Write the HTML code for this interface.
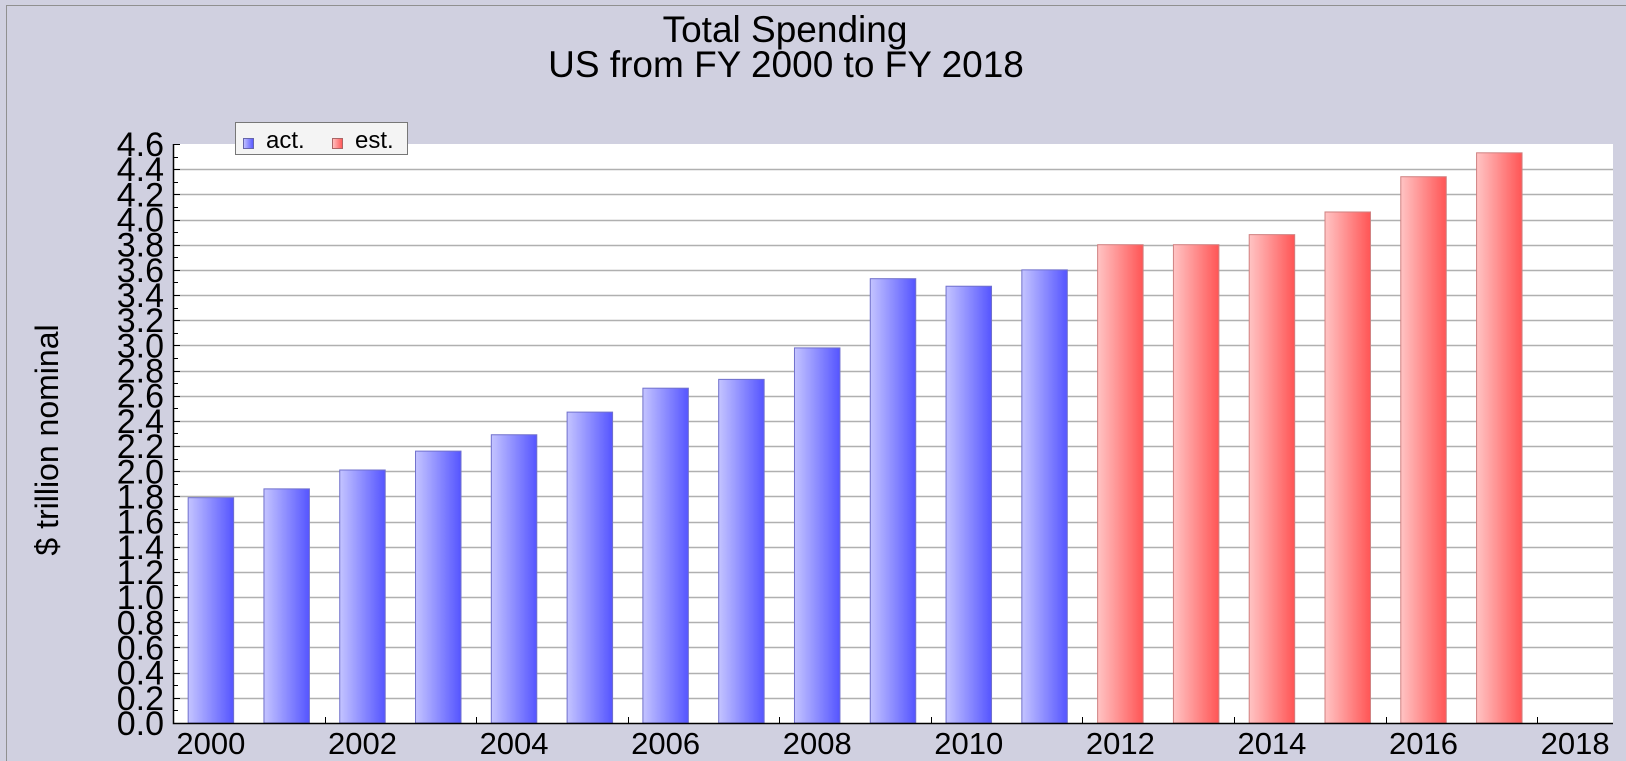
<!DOCTYPE html>
<html><head><meta charset="utf-8"><style>
html,body{margin:0;padding:0;background:#d0d0e0;overflow:hidden;width:1626px;height:761px;}
svg{display:block;font-family:"Liberation Sans",Arial,sans-serif;}
</style></head><body>
<svg id="chart" width="1626" height="761" xmlns="http://www.w3.org/2000/svg">
<defs>
<linearGradient id="gBlue" x1="0" x2="1" y1="0" y2="0"><stop offset="0" stop-color="#c4c4ff"/><stop offset="1" stop-color="#5555ff"/></linearGradient>
<linearGradient id="gRed" x1="0" x2="1" y1="0" y2="0"><stop offset="0" stop-color="#ffc4c4"/><stop offset="1" stop-color="#ff5555"/></linearGradient>
</defs>
<rect x="0" y="0" width="1626" height="761" fill="#d0d0e0"/>
<path d="M6.5,761 V5.5 H1626" fill="none" stroke="#909090"/>
<text x="785" y="42" font-size="37" text-anchor="middle">Total Spending</text>
<text x="786" y="77" font-size="37" text-anchor="middle">US from FY 2000 to FY 2018</text>
<text transform="translate(58,440) rotate(-90)" font-size="32" text-anchor="middle">$ trillion nominal</text>
<rect x="173" y="144" width="1440" height="579" fill="#fff"/>
<g id="grid"></g><g id="bars"></g><g id="axes"></g>
<g>
<rect x="235.5" y="122.5" width="172" height="32" fill="#f4f4f4" stroke="#777"/>
<rect x="243.5" y="138.5" width="10" height="10" fill="url(#gBlue)" stroke="#6666aa"/>
<text x="266" y="148" font-size="24">act.</text>
<rect x="332.5" y="138.5" width="10" height="10" fill="url(#gRed)" stroke="#aa6666"/>
<text x="355" y="148" font-size="24">est.</text>
</g>
</svg>
<script>
const years = [2000,2001,2002,2003,2004,2005,2006,2007,2008,2009,2010,2011,2012,2013,2014,2015,2016,2017,2018];
const actual = [1.79,1.86,2.01,2.16,2.29,2.47,2.66,2.73,2.98,3.53,3.47,3.60,null,null,null,null,null,null,null];
const estimate = [null,null,null,null,null,null,null,null,null,null,null,null,3.80,3.80,3.88,4.06,4.34,4.53,null];
const yTicks = [0.0,0.2,0.4,0.6,0.8,1.0,1.2,1.4,1.6,1.8,2.0,2.2,2.4,2.6,2.8,3.0,3.2,3.4,3.6,3.8,4.0,4.2,4.4,4.6];
const xLabels = [2000,2002,2004,2006,2008,2010,2012,2014,2016,2018];

const NS="http://www.w3.org/2000/svg";
const L=173,R=1613,T=144,B=723,YMAX=4.6;
const slot=(R-L)/years.length;
function y(v){return B-(v/YMAX)*(B-T);}
function xc(yr){return L+(years.indexOf(yr)+0.5)*slot;}
function mk(tag,attrs,parent){const e=document.createElementNS(NS,tag);for(const k in attrs)e.setAttribute(k,attrs[k]);parent.appendChild(e);return e;}
const grid=document.getElementById('grid'),bars=document.getElementById('bars'),axes=document.getElementById('axes');
yTicks.forEach(v=>{
  const yy=Math.round(y(v))+0.5;
  if(v>0&&v<YMAX){const g=mk('line',{x1:L,x2:R,y1:yy,y2:yy,stroke:'#b0b0b0','stroke-width':1.5},grid);
  
  }
  const t=mk('line',{x1:L,x2:L+7,y1:yy,y2:yy,stroke:'#000'},axes);
  
  
  const m=Math.round(y(v+0.1))+0.5;
  if(v<YMAX){const mt=mk('line',{x1:L,x2:L+5,y1:m,y2:m,stroke:'#000'},axes);
  
  }
  const lb=mk('text',{x:164,y:y(v)+12,'font-size':34,'text-anchor':'end'},axes);
  lb.textContent=v.toFixed(1);
  
  
});
const bw=slot*0.6;
function drawBars(arr,fill,stroke,name){
  arr.forEach((v,i)=>{
    if(v==null)return;
    const cx=xc(years[i]);
    const r=mk('rect',{x:cx-bw/2,y:y(v),width:bw,height:B-y(v),fill:fill,stroke:stroke,'stroke-width':1},bars);
    
    
  });
}
drawBars(actual,'url(#gBlue)','#7070cc','bar-act');
drawBars(estimate,'url(#gRed)','#d08080','bar-est');
const ax=mk('path',{d:`M${L+0.5},${T} V${B+0.5} H${R}`,fill:'none',stroke:'#000','stroke-width':1.5},axes);


xLabels.forEach(yr=>{
  const cx=xc(yr);
  const tx=Math.round(cx-slot/2)+0.5;
  if(yr>years[0]){const tk=mk('line',{x1:tx,x2:tx,y1:B,y2:B-6,stroke:'#000'},axes);
  
  }
  const t=mk('text',{x:cx,y:754,'font-size':31,'text-anchor':'middle'},axes);
  t.textContent=yr;
  
  
});
</script>
</body></html>
